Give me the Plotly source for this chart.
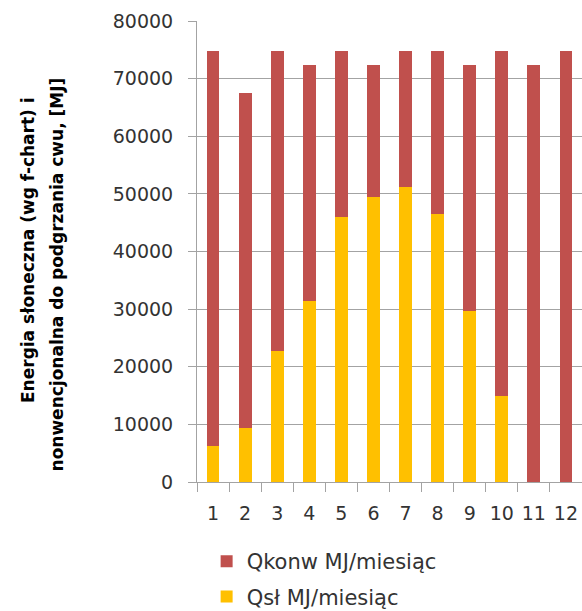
import plotly.graph_objects as go

# Monthly energy balance for domestic hot water heating [MJ]
months = ["1", "2", "3", "4", "5", "6", "7", "8", "9", "10", "11", "12"]
q_total = [74800, 67500, 74800, 72300, 74800, 72300, 74800, 74800, 72300, 74800, 72300, 74800]
q_solar = [6300, 9400, 22800, 31400, 46000, 49400, 51200, 46500, 29600, 15000, 0, 0]
q_conv = [t - s for t, s in zip(q_total, q_solar)]

y_ticks = [0, 10000, 20000, 30000, 40000, 50000, 60000, 70000, 80000]
y_tick_labels = [str(v) for v in y_ticks]

RED = "#C0504D"
YELLOW = "#FFC000"
GRID = "#a3a3a3"
TEXT = "#333333"

fig = go.Figure()
fig.add_trace(go.Bar(
    x=months, y=q_solar, name="Qsł MJ/miesiąc",
    marker=dict(color=YELLOW, line=dict(width=0)),
    legendgroup="b", legendrank=2,
))
fig.add_trace(go.Bar(
    x=months, y=q_conv, name="Qkonw MJ/miesiąc",
    marker=dict(color=RED, line=dict(width=0)),
    legendgroup="a", legendrank=1,
))

fig.update_layout(
    width=582, height=611,
    margin=dict(l=197, r=0, t=21, b=129, autoexpand=False),
    barmode="stack", bargap=0.6,
    plot_bgcolor="white", paper_bgcolor="white",
    font=dict(family="DejaVu Sans", size=19, color=TEXT),
    showlegend=True,
    legend=dict(
        x=0.025, xanchor="left", y=-0.128, yanchor="top",
        traceorder="grouped", tracegroupgap=5,
        font=dict(size=21, color=TEXT),
        itemwidth=30,
    ),
)

fig.update_xaxes(
    type="category",
    showline=True, linecolor=GRID, linewidth=1,
    ticks="outside", tickson="boundaries", ticklen=9, tickcolor=GRID,
    showgrid=False, tickangle=0,
    ticklabelstandoff=14,
)
fig.update_yaxes(
    range=[0, 80000], tickvals=y_ticks, ticktext=y_tick_labels,
    showline=True, linecolor=GRID, linewidth=1,
    ticks="outside", ticklen=8, tickcolor=GRID,
    showgrid=True, gridcolor=GRID, gridwidth=1,
    zeroline=False,
    ticklabelstandoff=11,
)

# Two-line rotated axis title, lines aligned at their upper ends
title_font = dict(family="DejaVu Sans", size=17, color="black")
fig.add_annotation(
    text="<b>Energia słoneczna (wg f-chart) i</b>",
    xref="paper", yref="paper", x=(28 - 197) / 385, y=(482.3 - 250) / 461.6,
    xanchor="center", yanchor="middle", textangle=-90, showarrow=False,
    font=title_font,
)
fig.add_annotation(
    text="<b>nonwencjonalna do podgrzania cwu, [MJ]</b>",
    xref="paper", yref="paper", x=(57 - 197) / 385, y=(482.3 - 274.5) / 461.6,
    xanchor="center", yanchor="middle", textangle=-90, showarrow=False,
    font=title_font,
)

fig.write_html("out.html")
